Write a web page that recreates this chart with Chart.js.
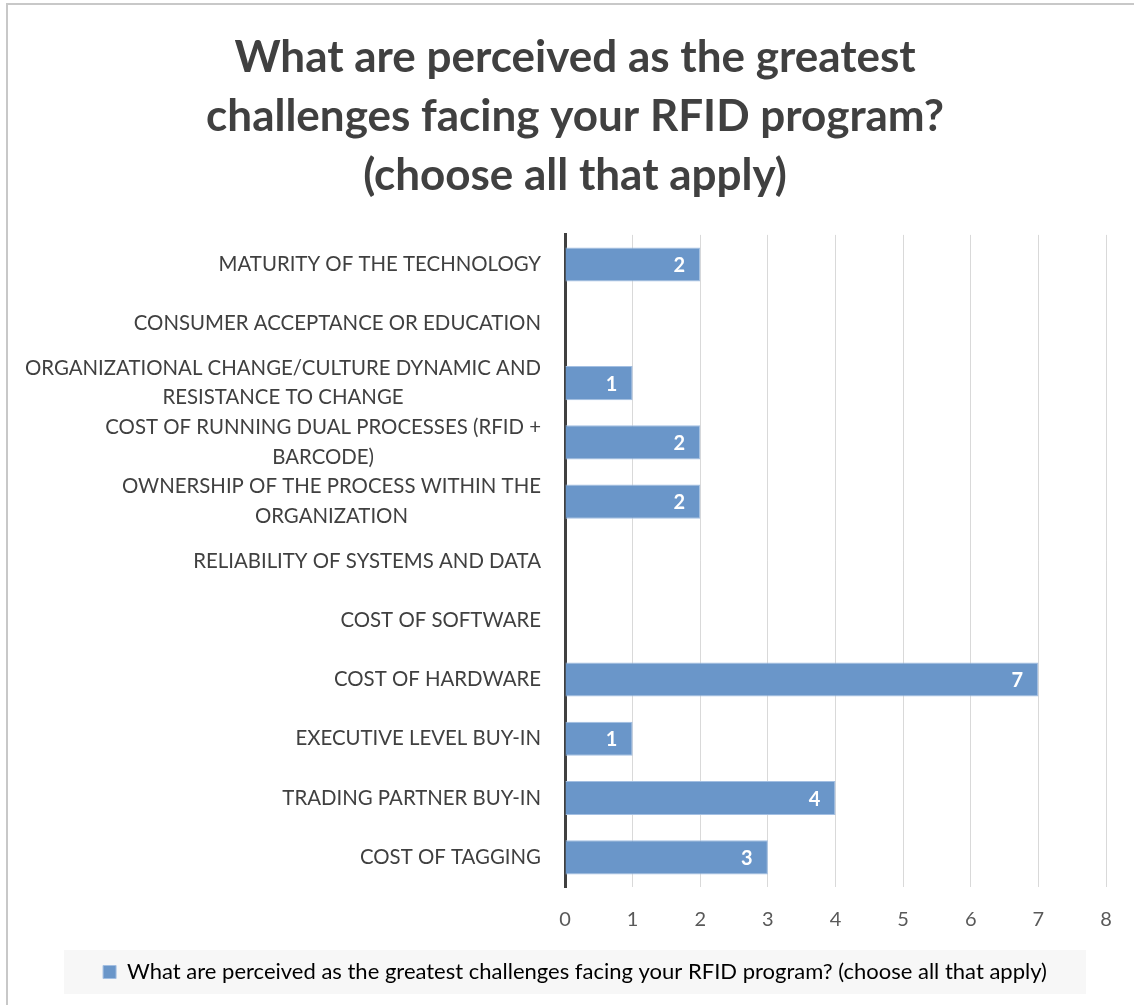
<!DOCTYPE html>
<html>
<head>
<meta charset="utf-8">
<script src="https://cdn.jsdelivr.net/npm/chart.js@4/dist/chart.umd.min.js"></script>
<style>
  html, body { margin: 0; padding: 0; background: #ffffff; }
  #frame { position: absolute; left: 6px; top: 3px; width: 1140px; height: 1010px;
           border-left: 2px solid #c8c8c8; border-top: 2px solid #c8c8c8; box-sizing: border-box; }
  #wrap { position: absolute; left: 0; top: 0; width: 1134px; height: 1005px; }
</style>
</head>
<body>
<div id="frame"></div>
<div id="wrap"><canvas id="c" width="1134" height="1005"></canvas></div>
<script>
const titleLines = [
  'What are perceived as the greatest',
  'challenges facing your RFID program?',
  '(choose all that apply)'
];
const seriesName = 'What are perceived as the greatest challenges facing your RFID program? (choose all that apply)';
const categories = [
  ['MATURITY OF THE TECHNOLOGY'],
  ['CONSUMER ACCEPTANCE OR EDUCATION'],
  ['ORGANIZATIONAL CHANGE/CULTURE DYNAMIC AND', 'RESISTANCE TO CHANGE'],
  ['COST OF RUNNING DUAL PROCESSES (RFID +', 'BARCODE)'],
  ['OWNERSHIP OF THE PROCESS WITHIN THE', 'ORGANIZATION'],
  ['RELIABILITY OF SYSTEMS AND DATA'],
  ['COST OF SOFTWARE'],
  ['COST OF HARDWARE'],
  ['EXECUTIVE LEVEL BUY-IN'],
  ['TRADING PARTNER BUY-IN'],
  ['COST OF TAGGING']
];
const values = [2, 0, 1, 2, 2, 0, 0, 7, 1, 4, 3];
const xTicks = [0, 1, 2, 3, 4, 5, 6, 7, 8];

const FONT = 'Lato, "Open Sans", sans-serif';
const LEFT_PAD = 44;

const labelPlugin = {
  id: 'customLabels',
  beforeDraw(chart) {
    const lg = chart.legend;
    if (lg) {
      const ctx = chart.ctx;
      const cy = lg.top + lg.height / 2;
      ctx.save();
      ctx.fillStyle = '#f7f7f7';
      ctx.fillRect(64, cy - 22, 1022, 44);
      ctx.restore();
    }
  },
  afterDraw(chart) {
    const ctx = chart.ctx;
    const yScale = chart.scales.y;
    const area = chart.chartArea;
    ctx.save();
    ctx.font = '20.4px ' + FONT;
    ctx.fillStyle = '#404040';
    ctx.textAlign = 'center';
    ctx.textBaseline = 'middle';
    const lineH = 29.5;
    const rightEdge = area.left - 24;
    chart.data.labels.forEach((lab, i) => {
      const lines = Array.isArray(lab) ? lab : [lab];
      const y = yScale.getPixelForValue(i);
      let maxW = 0;
      lines.forEach(l => { maxW = Math.max(maxW, ctx.measureText(l).width); });
      const cx = rightEdge - maxW / 2;
      const y0 = y - (lines.length - 1) * lineH / 2;
      lines.forEach((l, k) => ctx.fillText(l, cx, y0 + k * lineH));
    });
    ctx.font = 'bold 20px ' + FONT;
    ctx.fillStyle = '#ffffff';
    const meta = chart.getDatasetMeta(0);
    meta.data.forEach((bar, i) => {
      const v = chart.data.datasets[0].data[i];
      if (!v) return;
      ctx.fillText(String(v), bar.x - 21, bar.y + 1);
    });
    ctx.restore();
  }
};

new Chart(document.getElementById('c'), {
  type: 'bar',
  data: {
    labels: categories,
    datasets: [{
      label: seriesName,
      data: values,
      backgroundColor: '#6a96c9',
      borderColor: '#a3bfe2',
      borderWidth: (ctx) => (ctx.raw ? 1 : 0),
      categoryPercentage: 1.0,
      barPercentage: 0.575
    }]
  },
  options: {
    indexAxis: 'y',
    responsive: false,
    animation: false,
    layout: { padding: { left: LEFT_PAD, right: 28, top: 0, bottom: 12 } },
    scales: {
      x: {
        min: 0, max: 8,
        afterBuildTicks(scale) { scale.ticks = xTicks.map(v => ({ value: v })); },
        grid: { color: '#d9d9d9', lineWidth: 1, drawTicks: false },
        border: { display: false },
        ticks: { color: '#595959', font: { family: FONT, size: 20 }, padding: 21 },
        afterFit(scale) { scale.height = 64; }
      },
      y: {
        grid: { display: false },
        border: { display: true, color: '#404040', width: 3 },
        ticks: { display: false },
        afterFit(scale) { scale.width = 565 - LEFT_PAD; }
      }
    },
    plugins: {
      title: {
        display: true,
        text: titleLines,
        color: '#404040',
        font: { family: FONT, size: 44, weight: 'bold', lineHeight: 1.34 },
        padding: { top: 28, bottom: 30 }
      },
      legend: {
        display: true,
        position: 'bottom',
        labels: {
          color: '#404040',
          font: { family: FONT, size: 22 },
          boxWidth: 13, boxHeight: 13,
          padding: 10,
          generateLabels(chart) {
            return [{ text: seriesName, fillStyle: '#6a96c9', strokeStyle: '#a3bfe2', lineWidth: 1, datasetIndex: 0 }];
          }
        }
      },
      tooltip: { enabled: false }
    }
  },
  plugins: [labelPlugin]
});
</script>
</body>
</html>
